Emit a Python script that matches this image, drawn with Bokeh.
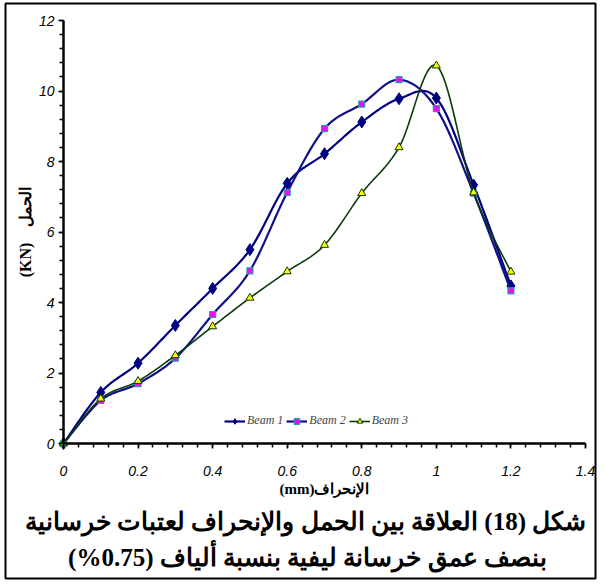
import numpy as np
from bokeh.plotting import figure
from bokeh.models import (Range1d, FixedTicker, Legend, LegendItem, Label, NumeralTickFormatter)
from bokeh.embed import file_html
from bokeh.resources import INLINE

# ---- data ----
deflection = [0, 0.1, 0.2, 0.3, 0.4, 0.5, 0.6, 0.7, 0.8, 0.9, 1.0, 1.1, 1.2]
beam1 = [0, 1.45, 2.28, 3.35, 4.40, 5.50, 7.38, 8.22, 9.12, 9.78, 9.80, 7.33, 4.47]
beam2 = [0, 1.22, 1.70, 2.42, 3.66, 4.90, 7.12, 8.93, 9.63, 10.32, 9.50, 7.10, 4.33]
beam3 = [0, 1.27, 1.77, 2.50, 3.32, 4.13, 4.88, 5.63, 7.10, 8.40, 10.72, 7.12, 4.87]
series_names = ["Beam 1", "Beam 2", "Beam 3"]

x_ticks = [0, 0.2, 0.4, 0.6, 0.8, 1.0, 1.2, 1.4]
y_ticks = [0, 2, 4, 6, 8, 10, 12]

RLE, PDF = "\u202b", "\u202c"
NB = "\u00a0"
x_label = "الإنحراف(mm)"
y_label = "الحمل" + NB * 4 + "(KN)"
caption1 = "شكل (18) العلاقة بين الحمل والإنحراف لعتبات خرسانية"
caption2 = "بنصف عمق خرسانة ليفية بنسبة ألياف (0.75%)"


def smooth(xs, ys, n=16):
    P = np.column_stack([xs, ys]).astype(float)
    E = np.vstack([P[0], P, P[-1]])
    out = []
    m = len(P) - 1
    for i in range(m):
        p0, p1, p2, p3 = E[i], E[i + 1], E[i + 2], E[i + 3]
        c1 = p1 + (p2 - p0) / 6.0
        c2 = p2 - (p3 - p1) / 6.0
        t = np.linspace(0, 1, n, endpoint=(i == m - 1))[:, None]
        seg = (1 - t) ** 3 * p1 + 3 * (1 - t) ** 2 * t * c1 + 3 * (1 - t) * t ** 2 * c2 + t ** 3 * p2
        out.append(seg)
    S = np.vstack(out)
    return S[:, 0], S[:, 1]


# ---- layout (pixels) ----
W, H = 600, 582
BOX_L, BOX_R, BOX_T, BOX_B = 5, 595, 3, 578        # outer black frame
AX_X0, AX_X1 = 63, 585                              # pixel of x=0 and x=1.4
AX_Y0, AX_Y1 = 443, 20                              # pixel of y=0 and y=12
xs_ = (AX_X1 - AX_X0) / (x_ticks[-1] - x_ticks[0])
ys_ = (AX_Y0 - AX_Y1) / (y_ticks[-1] - y_ticks[0])


def px2x(px):
    return (px - AX_X0) / xs_


def px2y(py):
    return (AX_Y0 - py) / ys_


p = figure(width=W, height=H, output_backend="svg", toolbar_location=None,
           x_range=Range1d(px2x(BOX_L), px2x(BOX_R)), y_range=Range1d(px2y(BOX_B), px2y(BOX_T)),
           min_border_left=BOX_L, min_border_right=W - BOX_R,
           min_border_top=BOX_T, min_border_bottom=H - BOX_B)
p.outline_line_color = "black"
p.outline_line_width = 2
p.grid.visible = False
p.background_fill_color = "white"
p.border_fill_color = "white"

# axes (drawn inside the frame at x=0 / y=0)
p.xaxis.fixed_location = 0
p.yaxis.fixed_location = 0
p.xaxis.bounds = (x_ticks[0], x_ticks[-1])
p.yaxis.bounds = (y_ticks[0], y_ticks[-1])
for ax in (p.xaxis[0], p.yaxis[0]):
    ax.axis_line_width = 2.5
    ax.axis_line_color = "black"
    ax.major_tick_in = 0
    ax.major_tick_out = 5
    ax.minor_tick_in = 0
    ax.minor_tick_out = 4
    ax.major_tick_line_width = 1.5
    ax.minor_tick_line_width = 1.5
    ax.major_tick_line_color = "black"
    ax.minor_tick_line_color = "black"
    ax.major_label_text_font = "Liberation Sans"
    ax.major_label_text_font_style = "italic"
    ax.major_label_text_font_size = "14px"
    ax.major_label_text_color = "black"
    ax.axis_label_text_font = "Liberation Serif"
    ax.axis_label_text_font_style = "bold"
    ax.axis_label_text_color = "black"

xmin = [round(v, 2) for v in np.arange(0, 1.4001, 0.04)]
ymin = [round(v, 1) for v in np.arange(0, 12.001, 0.4)]
p.xaxis.ticker = FixedTicker(ticks=x_ticks, minor_ticks=xmin)
p.yaxis.ticker = FixedTicker(ticks=y_ticks, minor_ticks=ymin)
p.xaxis.formatter = NumeralTickFormatter(format="0.[0]")
p.xaxis.major_label_standoff = 17
p.yaxis.major_label_standoff = 4
p.xaxis.axis_label = RLE + x_label + PDF
p.yaxis.axis_label = RLE + y_label + PDF
p.xaxis.axis_label_text_font_size = "15px"
p.yaxis.axis_label_text_font_size = "16px"
p.xaxis.axis_label_standoff = 2
p.yaxis.axis_label_standoff = 2

# series
x1, y1 = smooth(deflection, beam1)
x2, y2 = smooth(deflection, beam2)
x3, y3 = smooth(deflection, beam3)

l1 = p.line(x1, y1, line_color="#000080", line_width=2.2)
s1 = p.scatter(deflection, beam1, marker="diamond", size=12, fill_color="#000080", line_color="#000080")
l2 = p.line(x2, y2, line_color="#10108a", line_width=2.2)
s2 = p.scatter(deflection, beam2, marker="square", size=6, fill_color="#FF00FF", line_color="#20A0A0", line_width=1.2)
l3 = p.line(x3, y3, line_color="#0B3A0B", line_width=1.6)
s3 = p.scatter(deflection, beam3, marker="triangle", size=8, fill_color="#FFFF00", line_color="#0B3A0B", line_width=1)

legend = Legend(items=[LegendItem(label=series_names[0], renderers=[l1, s1]),
                       LegendItem(label=series_names[1], renderers=[l2, s2]),
                       LegendItem(label=series_names[2], renderers=[l3, s3])],
                orientation="horizontal", location=(224 - BOX_L, BOX_B - 428),
                border_line_color=None, background_fill_alpha=0,
                label_text_font="Liberation Serif", label_text_font_style="italic",
                label_text_font_size="12px", glyph_width=21, glyph_height=14,
                label_standoff=2, spacing=3, padding=2, margin=0, label_height=14)
p.add_layout(legend)

for txt, cx, cy in ((caption1, 305, 521), (caption2, 307, 557)):
    p.add_layout(Label(x=px2x(cx), y=px2y(cy), text=RLE + txt + PDF,
                       text_align="center", text_baseline="middle",
                       text_font="Liberation Serif", text_font_style="bold",
                       text_font_size="25px", text_color="black"))

open("out.html", "w").write(file_html(p, INLINE))
